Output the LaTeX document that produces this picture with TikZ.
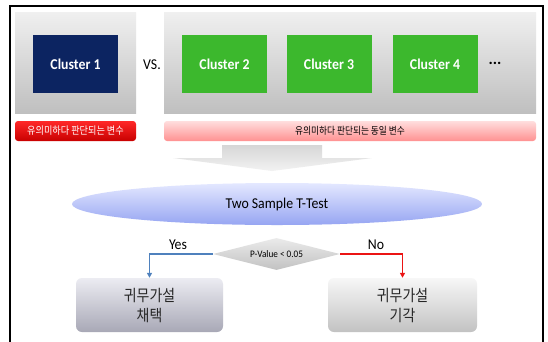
\documentclass[tikz,border=0pt]{standalone}
\usepackage{fontspec}
\setmainfont{Carlito}
\newfontfamily\kr[FakeStretch=0.87]{Noto Sans CJK KR}
\newfontfamily\narrowlat[FakeStretch=0.92]{Carlito}
\usetikzlibrary{shapes.geometric,arrows.meta}
\definecolor{navyc}{RGB}{12,36,97}
\definecolor{greenc}{RGB}{60,184,45}
\definecolor{yesblue}{RGB}{79,129,189}
\definecolor{nored}{RGB}{235,20,20}
\tikzset{
  graybox/.style={draw=none, top color=black!6, bottom color=black!25, inner sep=0pt},
  cluster/.style={draw=none, minimum width=85pt, minimum height=58pt, inner sep=0pt,
    text=white, font=\narrowlat\fontsize{15}{17}\selectfont\bfseries},
  redlabel/.style={draw=none, rounded corners=3pt, top color={rgb,255:red,255;green,40;blue,40}, bottom color={rgb,255:red,200;green,0;blue,0},
    text=white, inner sep=0pt, font=\kr\fontsize{10.5}{12}\selectfont},
  pinklabel/.style={draw=none, rounded corners=3pt, top color={rgb,255:red,255;green,222;blue,222}, bottom color={rgb,255:red,255;green,145;blue,145},
    text=black, inner sep=0pt, font=\kr\fontsize{10}{12}\selectfont},
  resultbox/.style={draw=none, rounded corners=6pt, minimum height=54pt, inner sep=0pt, align=center,
    text=black!85, font=\kr\fontsize{16}{20}\selectfont},
  conn/.style={line width=1.8pt, -{Triangle[length=5pt,width=5pt]}},
  lbl/.style={inner sep=0pt, font=\narrowlat\fontsize{15}{17}\selectfont}
}
\begin{document}
\begin{tikzpicture}[x=1pt,y=-1pt]
\useasboundingbox (0,0) rectangle (548,341);
\fill[white] (0,0) rectangle (548,341);
\draw[line width=1.5pt] (10,6) rectangle (543,370);
% gray panels
\node[graybox, minimum width=121pt, minimum height=101pt] (g1) at (75.5,62.5) {};
\node[graybox, minimum width=372pt, minimum height=101pt] (g2) at (350,62.5) {};
% clusters
\node[cluster, fill=navyc] (c1) at (75.5,64) {Cluster 1};
\node[cluster, fill=greenc] (c2) at (224.5,64) {Cluster 2};
\node[cluster, fill=greenc] (c3) at (329,64) {Cluster 3};
\node[cluster, fill=greenc] (c4) at (435,64) {Cluster 4};
\node[lbl, font=\fontsize{16}{17}\selectfont\bfseries] (dots) at (495,63) {...};
\node[lbl] (vs) at (152,65) {VS.};
% labels
\node[redlabel, minimum width=121pt, minimum height=20pt] (r1) at (75.5,131) {유의미하다 판단되는 변수};
\node[pinklabel, minimum width=372pt, minimum height=20pt] (p1) at (350,131) {유의미하다 판단되는 동일 변수};
% big arrow
\shade[top color=black!16, bottom color=black!5]
  (222,145) -- (322,145) -- (322,158) -- (372,158) -- (272,171) -- (173,158) -- (222,158) -- cycle;
% ellipse
\node[ellipse, draw=none, minimum width=410pt, minimum height=42pt, inner sep=0pt,
  top color={rgb,255:red,228;green,232;blue,255}, bottom color={rgb,255:red,150;green,165;blue,242},
  font=\narrowlat\fontsize{15}{17}\selectfont] (tt) at (277,204) {Two Sample T-Test};
% diamond
\node[diamond, aspect=4, draw=none, minimum width=127pt, minimum height=32pt, inner sep=0pt,
  top color=black!8, bottom color=black!24, font=\narrowlat\fontsize{10}{11}\selectfont] (d) at (276.5,254) {P-Value < 0.05};
% result boxes
\node[resultbox, minimum width=147pt, top color={rgb,255:red,236;green,236;blue,242}, bottom color={rgb,255:red,168;green,168;blue,182}] (L) at (149.5,305) {귀무가설\\채택};
\node[resultbox, minimum width=149pt, top color=black!3, bottom color=black!24] (R) at (402.5,305) {귀무가설\\기각};
% connectors
\draw[conn, yesblue] (d.west) -| (L.north);
\draw[conn, nored] (d.east) -| (R.north);
\node[lbl] (yes) at (178,245) {Yes};
\node[lbl] (no) at (376,245) {No};
\end{tikzpicture}
\end{document}
